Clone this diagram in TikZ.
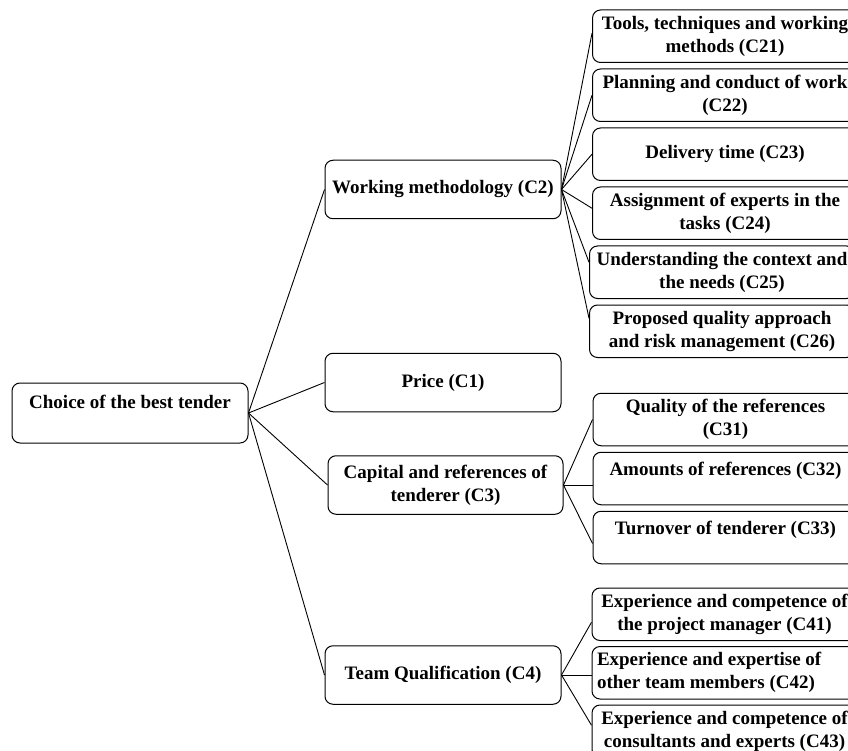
\documentclass[tikz,border=0pt]{standalone}
\usepackage{fontspec}
\setmainfont{Liberation Serif}
\usetikzlibrary{positioning}

\begin{document}
\begin{tikzpicture}[x=1pt,y=1pt,font=\fontsize{19}{23}\selectfont\bfseries,
  blk/.style={draw,line width=1pt,rounded corners=8pt,align=center,inner sep=3pt},
  mid/.style={blk,minimum width=236pt,minimum height=58.5pt},
  leaf/.style={blk,minimum width=265pt,minimum height=52.5pt},
  upper/.style={text height=20pt,text depth=26.5pt},
  wire/.style={line width=0.9pt}]
\useasboundingbox (0,0) rectangle (848,-751);
\node[blk,minimum width=236pt,text height=22pt,text depth=32pt] (root) at (130,-413) {Choice of the best tender};
\node[mid] (c2) at (443,-189.5) {Working methodology (C2)};
\node[mid] (c1) at (443,-382.5) {Price (C1)};
\node[mid,minimum width=235pt] (c3) at (445.5,-485) {Capital and references of\\tenderer (C3)};
\node[mid] (c4) at (443,-675) {Team Qualification (C4)};
\node[leaf] (c21) at (725,-36.25) {Tools, techniques and working\\methods (C21)};
\node[leaf,below=5.5pt of c21] (c22) {Planning and conduct of work\\(C22)};
\node[leaf,below=5.5pt of c22] (c23) {Delivery time (C23)};
\node[leaf,below=5.5pt of c23] (c24) {Assignment of experts in the\\tasks (C24)};
\node[leaf,below=5.5pt of c24,xshift=-3pt] (c25) {Understanding the context and\\the needs (C25)};
\node[leaf,below=5.5pt of c25] (c26) {Proposed quality approach\\and risk management (C26)};
\node[leaf] (c31) at (725.5,-419.5) {Quality of the references\\(C31)};
\node[leaf,upper,below=5.5pt of c31] (c32) {Amounts of references (C32)};
\node[leaf,upper,below=5.5pt of c32] (c33) {Turnover of tenderer (C33)};
\node[leaf] (c41) at (724.5,-614.25) {Experience and competence of\\the project manager (C41)};
\node[leaf,text width=255pt,align=flush left,below=5pt of c41] (c42) {Experience and expertise of\\other team members (C42)};
\node[leaf,below=5pt of c42] (c43) {Experience and competence of\\consultants and experts (C43)};
% main criteria
\draw[wire] (root.east) -- (c2.west); \draw[wire] (root.east) -- (c1.west);
\draw[wire] (root.east) -- (c3.west); \draw[wire] (root.east) -- (c4.west);
% sub-criteria
\draw[wire] (c2.east) -- ([yshift=3pt]c21.west); \draw[wire] (c2.east) -- (c22.west);
\draw[wire] (c2.east) -- (c23.west); \draw[wire] (c2.east) -- ([yshift=5pt]c24.west);
\draw[wire] (c2.east) -- ([yshift=10pt]c25.west); \draw[wire] (c2.east) -- ([yshift=13pt]c26.west);
\draw[wire] (c3.east) -- (c31.west); \draw[wire] (c3.east) -- (c3.east-|c32.west);
\draw[wire] (c3.east) -- ([yshift=-6pt]c33.west);
\draw[wire] (c4.east) -- ([yshift=-8pt]c41.west); \draw[wire] (c4.east) -- (c4.east-|c42.west);
\draw[wire] (c4.east) -- ([yshift=6pt]c43.west);
\end{tikzpicture}
\end{document}
